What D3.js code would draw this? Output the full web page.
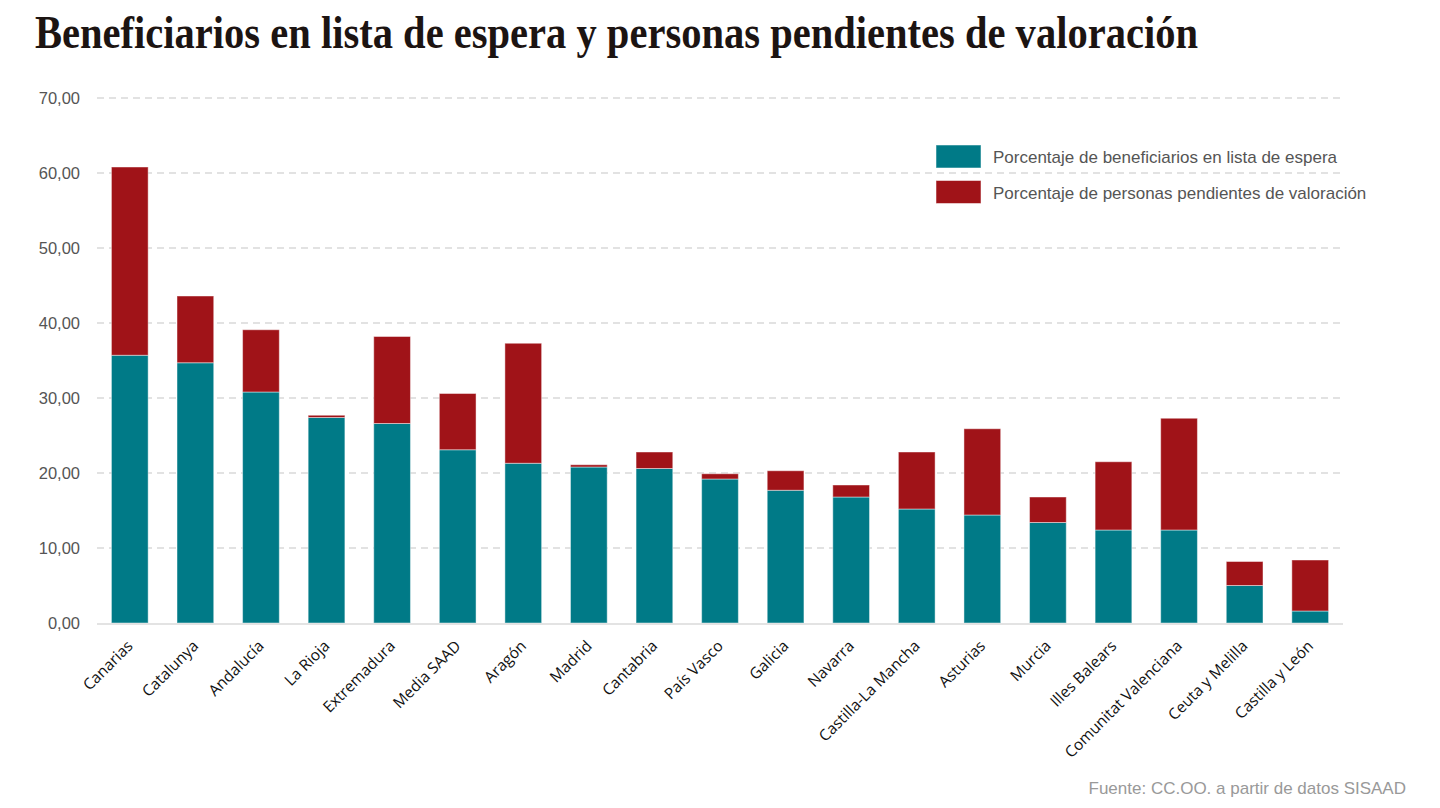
<!DOCTYPE html>
<html><head><meta charset="utf-8">
<script src="https://cdn.jsdelivr.net/npm/d3@7"></script>
<style>body{margin:0;background:#fff}svg{display:block}</style>
</head><body>
<svg id="chart" width="1440" height="808"></svg>
<script>
const categories = ["Canarias","Catalunya","Andalucía","La Rioja","Extremadura","Media SAAD","Aragón","Madrid","Cantabria","País Vasco","Galicia","Navarra","Castilla-La Mancha","Asturias","Murcia","Illes Balears","Comunitat Valenciana","Ceuta y Melilla","Castilla y León"];
const listaEspera = [35.7,34.7,30.8,27.4,26.6,23.1,21.3,20.8,20.6,19.2,17.7,16.8,15.2,14.4,13.4,12.4,12.4,5.0,1.6];
const pendientesValoracion = [25.1,8.9,8.3,0.3,11.6,7.5,16.0,0.3,2.2,0.7,2.6,1.6,7.6,11.5,3.4,9.1,14.9,3.2,6.8];
const seriesNames = ["Porcentaje de beneficiarios en lista de espera","Porcentaje de personas pendientes de valoración"];
const yTicks = [0,10,20,30,40,50,60,70];
const title = "Beneficiarios en lista de espera y personas pendientes de valoración";
const source = "Fuente: CC.OO. a partir de datos SISAAD";

const colors = ["#007a87","#a01318"];
const svg = d3.select("#chart");
const m = {left:97, right:1343, top:98, bottom:623};

const x = d3.scaleBand().domain(categories).range([m.left, m.right]).paddingInner(0.44).paddingOuter(0.22);
const y = d3.scaleLinear().domain([0,70]).range([m.bottom, m.top]);

// title
svg.append("text").attr("x",35).attr("y",48)
  .attr("textLength",1163).attr("lengthAdjust","spacingAndGlyphs")
  .style("font-family","'Liberation Serif','DejaVu Serif',serif").style("font-weight","bold")
  .style("font-size","47px").style("fill","#1c1412").text(title);

// grid
const yAxis = d3.axisLeft(y).tickValues(yTicks).tickSize(0).tickPadding(0)
  .tickFormat(d => d3.format(".2f")(d).replace(".",","));
const gy = svg.append("g").attr("transform",`translate(80,0)`).call(yAxis);
gy.select(".domain").remove();
gy.selectAll("text").style("font-family","'Liberation Sans',Arial,sans-serif").style("font-size","16.5px").style("fill","#555");

svg.append("g").selectAll("line").data(yTicks.filter(d=>d>0)).join("line")
  .attr("x1",m.left).attr("x2",1340).attr("y1",d=>y(d)).attr("y2",d=>y(d))
  .attr("stroke","#d9d9d9").attr("stroke-width",1.5).attr("stroke-dasharray","7,5");

// bars
const data = categories.map((c,i)=>({cat:c, a:listaEspera[i], b:pendientesValoracion[i]}));
const stack = d3.stack().keys(["a","b"])(data);
svg.append("g").selectAll("g").data(stack).join("g").attr("fill",(d,i)=>colors[i])
  .selectAll("rect").data(d=>d).join("rect")
  .attr("x",d=>x(d.data.cat)).attr("width",x.bandwidth())
  .attr("y",d=>y(d[1])).attr("height",d=>y(d[0])-y(d[1]))
  .attr("stroke","rgba(255,255,255,0.45)").attr("stroke-width",1);

// baseline
svg.append("line").attr("x1",m.left).attr("x2",m.right).attr("y1",y(0)+1).attr("y2",y(0)+1)
  .attr("stroke","#e3e3e3").attr("stroke-width",2);

// x labels
const xAxis = d3.axisBottom(x).tickSize(0).tickPadding(0);
const gx = svg.append("g").attr("transform",`translate(0,${y(0)})`).call(xAxis);
gx.select(".domain").remove();
gx.selectAll("text")
  .attr("transform","translate(4,24) rotate(-45)").attr("dy",0).attr("y",0)
  .attr("text-anchor","end")
  .style("font-family","'Open Sans',sans-serif").style("font-size","15.5px").style("fill","#111");

// legend
const lg = svg.append("g");
seriesNames.forEach((s,i)=>{
  lg.append("rect").attr("x",936).attr("y",145+i*35.5).attr("width",45).attr("height",23).attr("fill",colors[i])
    .attr("stroke","rgba(255,255,255,0.5)");
  lg.append("text").attr("x",993).attr("y",163+i*35.5).text(s)
    .style("font-family","'Liberation Sans',Arial,sans-serif").style("font-size","17px").style("fill","#555");
});

// source
svg.append("text").attr("x",1406).attr("y",794).attr("text-anchor","end").text(source)
  .style("font-family","'Liberation Sans',Arial,sans-serif").style("font-size","17px").style("fill","#999");
</script>
</body></html>
